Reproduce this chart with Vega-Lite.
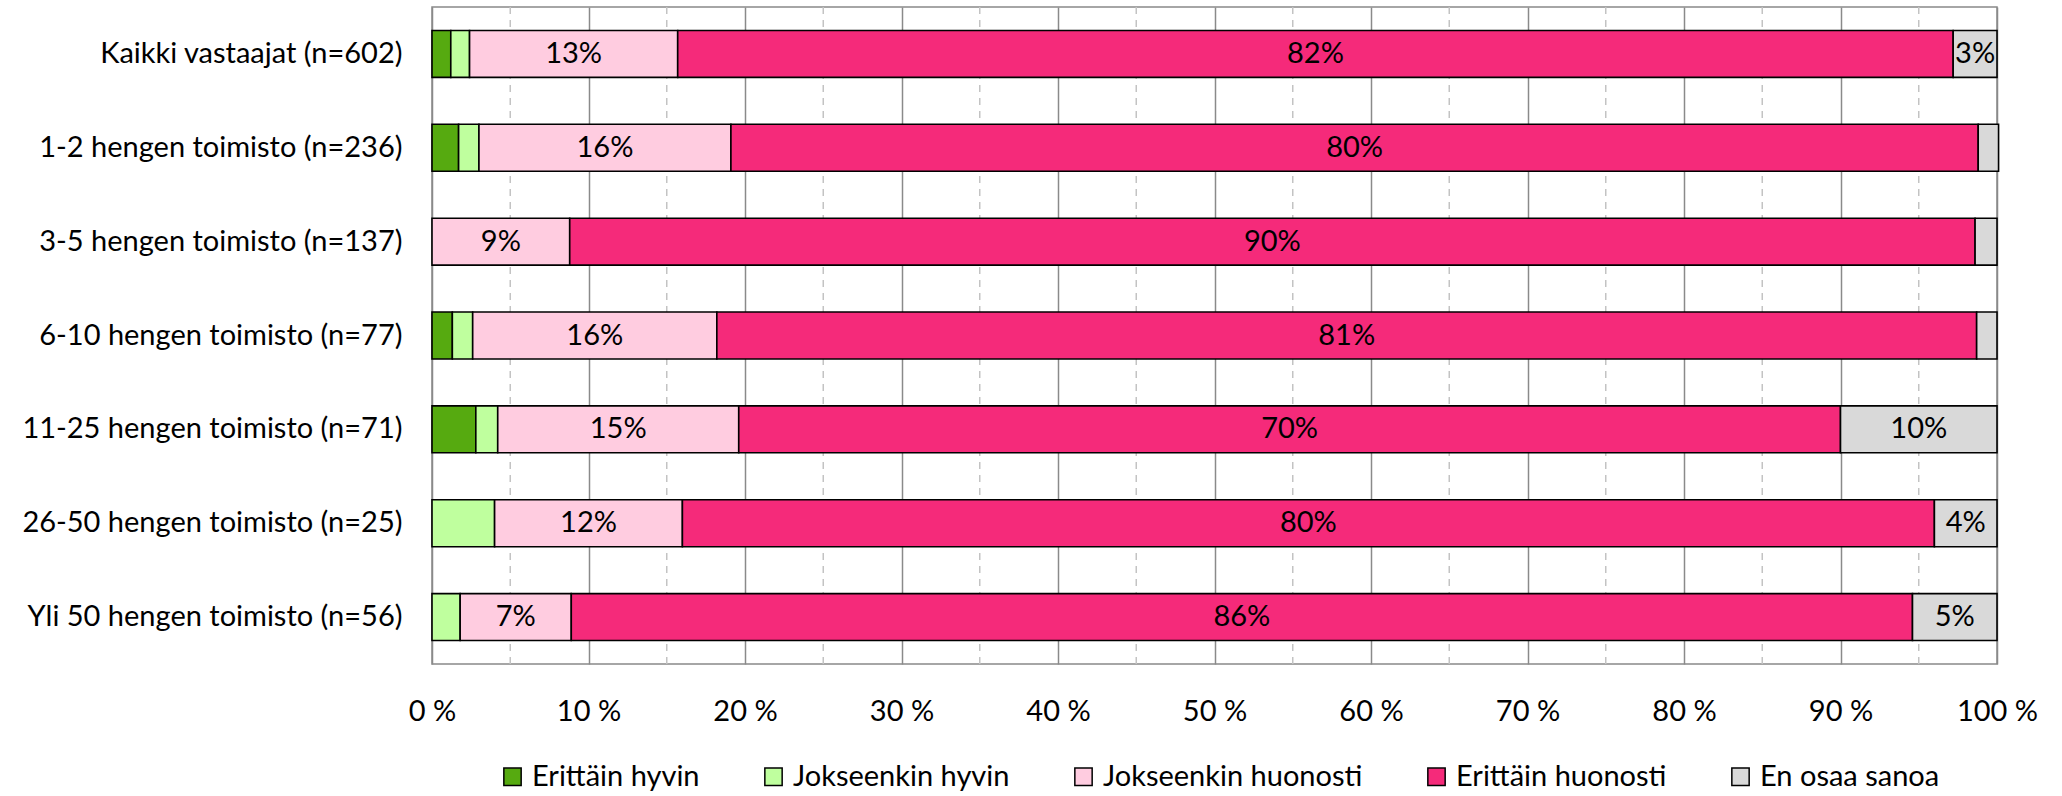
{
  "$schema": "https://vega.github.io/schema/vega-lite/v6.json",
  "autosize": {"type": "none"},
  "padding": {"left": 432, "top": 7, "right": 65, "bottom": 132},
  "width": 1565,
  "height": 657,
  "config": {
    "font": "Lato",
    "view": {"stroke": "#898989", "strokeWidth": 1.5},
    "axis": {"labelFont": "Lato", "labelFontSize": 29, "labelColor": "#000000"}
  },
  "data": {
    "values": [
      {"g": "Kaikki vastaajat (n=602)", "s": "Erittäin hyvin", "j": 1, "v": 1.2},
      {"g": "Kaikki vastaajat (n=602)", "s": "Jokseenkin hyvin", "j": 2, "v": 1.2},
      {"g": "Kaikki vastaajat (n=602)", "s": "Jokseenkin huonosti", "j": 3, "v": 13.3},
      {"g": "Kaikki vastaajat (n=602)", "s": "Erittäin huonosti", "j": 4, "v": 81.5},
      {"g": "Kaikki vastaajat (n=602)", "s": "En osaa sanoa", "j": 5, "v": 2.8},
      {"g": "1-2 hengen toimisto (n=236)", "s": "Erittäin hyvin", "j": 1, "v": 1.7},
      {"g": "1-2 hengen toimisto (n=236)", "s": "Jokseenkin hyvin", "j": 2, "v": 1.3},
      {"g": "1-2 hengen toimisto (n=236)", "s": "Jokseenkin huonosti", "j": 3, "v": 16.1},
      {"g": "1-2 hengen toimisto (n=236)", "s": "Erittäin huonosti", "j": 4, "v": 79.7},
      {"g": "1-2 hengen toimisto (n=236)", "s": "En osaa sanoa", "j": 5, "v": 1.3},
      {"g": "3-5 hengen toimisto (n=137)", "s": "Erittäin hyvin", "j": 1, "v": 0},
      {"g": "3-5 hengen toimisto (n=137)", "s": "Jokseenkin hyvin", "j": 2, "v": 0},
      {"g": "3-5 hengen toimisto (n=137)", "s": "Jokseenkin huonosti", "j": 3, "v": 8.8},
      {"g": "3-5 hengen toimisto (n=137)", "s": "Erittäin huonosti", "j": 4, "v": 89.8},
      {"g": "3-5 hengen toimisto (n=137)", "s": "En osaa sanoa", "j": 5, "v": 1.4},
      {"g": "6-10 hengen toimisto (n=77)", "s": "Erittäin hyvin", "j": 1, "v": 1.3},
      {"g": "6-10 hengen toimisto (n=77)", "s": "Jokseenkin hyvin", "j": 2, "v": 1.3},
      {"g": "6-10 hengen toimisto (n=77)", "s": "Jokseenkin huonosti", "j": 3, "v": 15.6},
      {"g": "6-10 hengen toimisto (n=77)", "s": "Erittäin huonosti", "j": 4, "v": 80.5},
      {"g": "6-10 hengen toimisto (n=77)", "s": "En osaa sanoa", "j": 5, "v": 1.3},
      {"g": "11-25 hengen toimisto (n=71)", "s": "Erittäin hyvin", "j": 1, "v": 2.8},
      {"g": "11-25 hengen toimisto (n=71)", "s": "Jokseenkin hyvin", "j": 2, "v": 1.4},
      {"g": "11-25 hengen toimisto (n=71)", "s": "Jokseenkin huonosti", "j": 3, "v": 15.4},
      {"g": "11-25 hengen toimisto (n=71)", "s": "Erittäin huonosti", "j": 4, "v": 70.4},
      {"g": "11-25 hengen toimisto (n=71)", "s": "En osaa sanoa", "j": 5, "v": 10.0},
      {"g": "26-50 hengen toimisto (n=25)", "s": "Erittäin hyvin", "j": 1, "v": 0},
      {"g": "26-50 hengen toimisto (n=25)", "s": "Jokseenkin hyvin", "j": 2, "v": 4},
      {"g": "26-50 hengen toimisto (n=25)", "s": "Jokseenkin huonosti", "j": 3, "v": 12},
      {"g": "26-50 hengen toimisto (n=25)", "s": "Erittäin huonosti", "j": 4, "v": 80},
      {"g": "26-50 hengen toimisto (n=25)", "s": "En osaa sanoa", "j": 5, "v": 4},
      {"g": "Yli 50 hengen toimisto (n=56)", "s": "Erittäin hyvin", "j": 1, "v": 0},
      {"g": "Yli 50 hengen toimisto (n=56)", "s": "Jokseenkin hyvin", "j": 2, "v": 1.8},
      {"g": "Yli 50 hengen toimisto (n=56)", "s": "Jokseenkin huonosti", "j": 3, "v": 7.1},
      {"g": "Yli 50 hengen toimisto (n=56)", "s": "Erittäin huonosti", "j": 4, "v": 85.7},
      {"g": "Yli 50 hengen toimisto (n=56)", "s": "En osaa sanoa", "j": 5, "v": 5.4}
    ]
  },
  "layer": [
    {
      "data": {"values": [{"p": 5}, {"p": 15}, {"p": 25}, {"p": 35}, {"p": 45}, {"p": 55}, {"p": 65}, {"p": 75}, {"p": 85}, {"p": 95}]},
      "mark": {"type": "rule", "color": "#c3c3c3", "strokeWidth": 1.5, "strokeDash": [7, 6]},
      "encoding": {
        "x": {"field": "p", "type": "quantitative", "scale": {"domain": [0, 100], "nice": false}}
      }
    },
    {
      "transform": [
        {"stack": "v", "groupby": ["g"], "sort": [{"field": "j", "order": "ascending"}], "as": ["v0", "v1"]},
        {"filter": "datum.v > 0"}
      ],
      "mark": {"type": "bar", "stroke": "#000000", "strokeWidth": 1.6},
      "encoding": {
        "y": {
          "field": "g", "type": "nominal", "sort": null,
          "scale": {"paddingInner": 0.5, "paddingOuter": 0.25},
          "axis": {"title": null, "ticks": false, "domain": false, "labelPadding": 30, "labelFontSize": 29, "labelLimit": 0}
        },
        "x": {
          "field": "v0", "type": "quantitative",
          "scale": {"domain": [0, 100], "nice": false},
          "axis": {
            "title": null, "values": [0, 10, 20, 30, 40, 50, 60, 70, 80, 90, 100],
            "labelExpr": "datum.value + ' %'", "ticks": false, "domain": false,
            "grid": true, "gridColor": "#8a8a8a", "gridWidth": 1.5, "labelPadding": 33,
            "labelFlush": false
          }
        },
        "x2": {"field": "v1"},
        "color": {
          "field": "s", "type": "nominal",
          "scale": {
            "domain": ["Erittäin hyvin", "Jokseenkin hyvin", "Jokseenkin huonosti", "Erittäin huonosti", "En osaa sanoa"],
            "range": ["#56aa10", "#bfff9e", "#ffcce0", "#f52a7a", "#d9d9d9"]
          },
          "legend": {
            "title": null, "orient": "none", "legendX": 66, "legendY": 755, "direction": "horizontal",
            "padding": 0,
            "symbolType": "square", "symbolSize": 300, "symbolStrokeColor": "#000000", "symbolStrokeWidth": 1.5,
            "labelFontSize": 29, "labelFont": "Lato", "labelColor": "#000000", "labelLimit": 0,
            "columnPadding": 59, "labelOffset": 5
          }
        }
      }
    },
    {
      "transform": [
        {"stack": "v", "groupby": ["g"], "sort": [{"field": "j", "order": "ascending"}], "as": ["v0", "v1"]},
        {"filter": "datum.j >= 3 && datum.v >= 2.5"},
        {"calculate": "(datum.v0 + datum.v1) / 2", "as": "mid"},
        {"calculate": "format(datum.v, '.0f') + '%'", "as": "lab"}
      ],
      "mark": {"type": "text", "fontSize": 29, "font": "Lato", "color": "#000000"},
      "encoding": {
        "y": {"field": "g", "type": "nominal", "sort": null},
        "x": {"field": "mid", "type": "quantitative"},
        "text": {"field": "lab"}
      }
    }
  ]
}
